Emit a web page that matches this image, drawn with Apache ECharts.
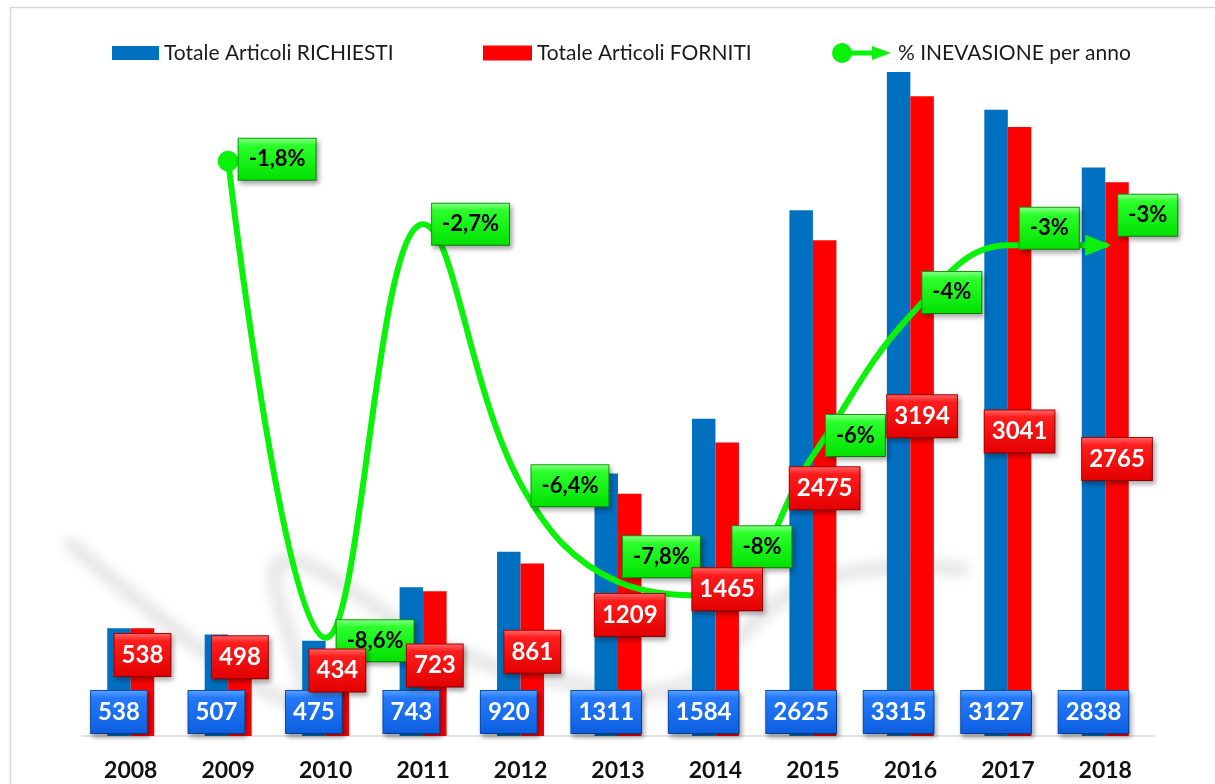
<!DOCTYPE html>
<html>
<head>
<meta charset="utf-8">
<script src="https://cdn.jsdelivr.net/npm/echarts@6/dist/echarts.min.js"></script>
<style>
  html, body { margin: 0; padding: 0; background: #ffffff; }
  #chart { width: 1215px; height: 784px; }
</style>
</head>
<body>
<div id="chart"></div>
<script>
// Anni e valori annuali
const years = ['2008', '2009', '2010', '2011', '2012', '2013', '2014', '2015', '2016', '2017', '2018'];
const richiesti = [538, 507, 475, 743, 920, 1311, 1584, 2625, 3315, 3127, 2838];
const forniti = [538, 498, 434, 723, 861, 1209, 1465, 2475, 3194, 3041, 2765];
// % di inevasione per anno (nessun valore per il 2008)
const inevasione = [null, -1.8, -8.6, -2.7, -6.4, -7.8, -8, -6, -4, -3, -3];

const seriesNames = ['Totale Articoli RICHIESTI', 'Totale Articoli FORNITI', '% INEVASIONE per anno'];

// Spostamenti delle etichette (solo impaginazione)
const fornitiLabelShift = [-27, -29, -22, 2, 2, 0, 0, 0, 0, 0, 0];
const pctLabelShift = [[0, 0], [-10, -2], [0, 3], [-2, 0], [0, 2], [-6, -25], [6, -49], [2, -20], [1, -23], [1, -17], [-3, -30]];

const FONT = 'Lato, "Open Sans", sans-serif';
const GREEN = '#0AF20A';
const BAR_W = 23.5;

function grad(c0, c1, c2) {
  return {
    type: 'linear', x: 0, y: 0, x2: 0, y2: 1,
    colorStops: [{ offset: 0, color: c0 }, { offset: 0.18, color: c1 }, { offset: 1, color: c2 }]
  };
}

function boxLabel(bg, border, textColor) {
  return {
    show: true,
    fontFamily: FONT,
    fontWeight: 'bold',
    fontSize: 24,
    lineHeight: 24,
    color: textColor,
    backgroundColor: bg,
    borderColor: border,
    borderWidth: 1,
    padding: [9, 7, 9, 7],
    shadowBlur: 5,
    shadowColor: 'rgba(0,0,0,0.35)',
    shadowOffsetX: 2,
    shadowOffsetY: 3
  };
}

const pctFormat = v => String(v).replace('.', ',') + '%';

const firstPct = inevasione.findIndex(v => v != null);
const lastPct = inevasione.length - 1;

const lineData = inevasione.map((v, i) => {
  if (v == null) return '-';
  const item = { value: v, label: { offset: pctLabelShift[i] } };
  if (i === firstPct) {
    item.symbol = 'circle';
    item.symbolSize = 21;
  } else if (i === lastPct) {
    item.symbol = 'triangle';
    item.symbolSize = [21, 26];
    item.symbolRotate = -90;
    item.symbolOffset = [-7, 0];
  }
  return item;
});

// Le etichette dei FORNITI stanno sopra la linea: serie trasparente sovrapposta
const fornitiLabelData = forniti.map((v, i) => ({
  value: v,
  label: { offset: [BAR_W / 2, fornitiLabelShift[i]] }
}));

// Ombra prospettica della linea, proiettata verso il basso
const SHADOW_SHIFT = 3000;
function renderLineShadow(params, api) {
  const base = api.coord([0, -10])[1];
  const pts = [];
  inevasione.forEach((v, i) => {
    if (v == null) return;
    const p = api.coord([i, v]);
    const h = base - p[1];
    pts.push([p[0] - 0.28 * h - SHADOW_SHIFT, base - 0.34 * h]);
  });
  return {
    type: 'polyline',
    shape: { points: pts, smooth: 0.4 },
    style: {
      fill: null,
      stroke: '#000000',
      lineWidth: 10,
      shadowBlur: 14,
      shadowColor: 'rgba(0,0,0,0.15)',
      shadowOffsetX: SHADOW_SHIFT,
      shadowOffsetY: 0
    }
  };
}

const legendText = { fontFamily: FONT, fontSize: 21, color: '#1a1a1a', lineHeight: 22 };

const option = {
  backgroundColor: '#ffffff',
  animation: false,
  graphic: [{
    type: 'rect',
    silent: true,
    shape: { x: 10.5, y: 7.5, width: 1400, height: 1000 },
    style: { fill: null, stroke: '#d6d6d6', lineWidth: 1.5 }
  }],
  legend: [
    {
      data: [seriesNames[0]], left: 112, top: 42, padding: 0, icon: 'rect',
      itemWidth: 47, itemHeight: 14, textStyle: legendText, selectedMode: false
    },
    {
      data: [seriesNames[1]], left: 483, top: 42, padding: 0, icon: 'rect',
      itemWidth: 49, itemHeight: 15, textStyle: legendText, selectedMode: false
    },
    {
      data: [seriesNames[2]], left: 832, top: 42, padding: 0,
      icon: 'path://M0,10 A10,10 0 1,1 20,10 A10,10 0 1,1 0,10 Z M19,7.5 L40,7.5 L40,3 L59,10 L40,17 L40,12.5 L19,12.5 Z',
      itemWidth: 59, itemHeight: 20, textStyle: Object.assign({}, legendText, { padding: [0, 0, 0, 2] }),
      selectedMode: false
    }
  ],
  grid: { left: 82, right: 61, top: 35, bottom: 48, containLabel: false },
  xAxis: [
    {
      type: 'category',
      data: years,
      axisTick: { show: false },
      axisLine: { lineStyle: { color: '#d9d9d9', width: 1.5 } },
      axisLabel: { fontFamily: FONT, fontWeight: 'bold', fontSize: 23, color: '#111111', margin: 23 }
    },
    { type: 'category', data: years, show: false }
  ],
  yAxis: [
    { type: 'value', min: 0, max: 3500, show: false, splitLine: { show: false } },
    { type: 'value', min: -10, max: 0, show: false, splitLine: { show: false } }
  ],
  series: [
    {
      type: 'custom',
      name: 'ombra',
      yAxisIndex: 1,
      silent: true,
      z: 1,
      data: [0],
      renderItem: renderLineShadow
    },
    {
      name: seriesNames[0],
      type: 'bar',
      data: richiesti,
      barWidth: BAR_W,
      barGap: '0%',
      z: 2,
      itemStyle: { color: '#0070C0' },
      label: Object.assign(boxLabel(grad('#5FA3FF', '#2479FA', '#0B5EE0'), '#0A4FB0', '#ffffff'), {
        position: 'insideBottom', distance: 3
      })
    },
    {
      name: seriesNames[1],
      type: 'bar',
      data: forniti,
      barWidth: BAR_W,
      barGap: '0%',
      z: 2,
      itemStyle: { color: '#FF0000' },
      label: { show: false }
    },
    {
      name: seriesNames[2],
      type: 'line',
      yAxisIndex: 1,
      data: lineData,
      smooth: 0.4,
      z: 3,
      symbol: 'circle',
      symbolSize: 2,
      showSymbol: true,
      connectNulls: false,
      itemStyle: { color: GREEN, borderWidth: 0 },
      lineStyle: { color: GREEN, width: 6, cap: 'round', join: 'round' },
      emphasis: { disabled: true },
      label: Object.assign(boxLabel(grad('#8CFF8C', '#2CFF2C', '#00E000'), '#10A010', '#000000'), {
        position: 'right',
        distance: 10,
        fontSize: 22,
        lineHeight: 22,
        padding: [10, 10, 9, 10],
        formatter: p => pctFormat(p.value)
      })
    },
    {
      name: 'etichette forniti',
      type: 'bar',
      xAxisIndex: 1,
      data: fornitiLabelData,
      barWidth: BAR_W,
      z: 4,
      silent: true,
      itemStyle: { color: 'rgba(0,0,0,0)' },
      emphasis: { disabled: true },
      label: Object.assign(boxLabel(grad('#FF6A6A', '#FF1C1C', '#E20000'), '#B00000', '#ffffff'), {
        position: 'inside'
      })
    }
  ]
};

const chart = echarts.init(document.getElementById('chart'), null, { renderer: 'canvas' });
chart.setOption(option);
</script>
</body>
</html>
